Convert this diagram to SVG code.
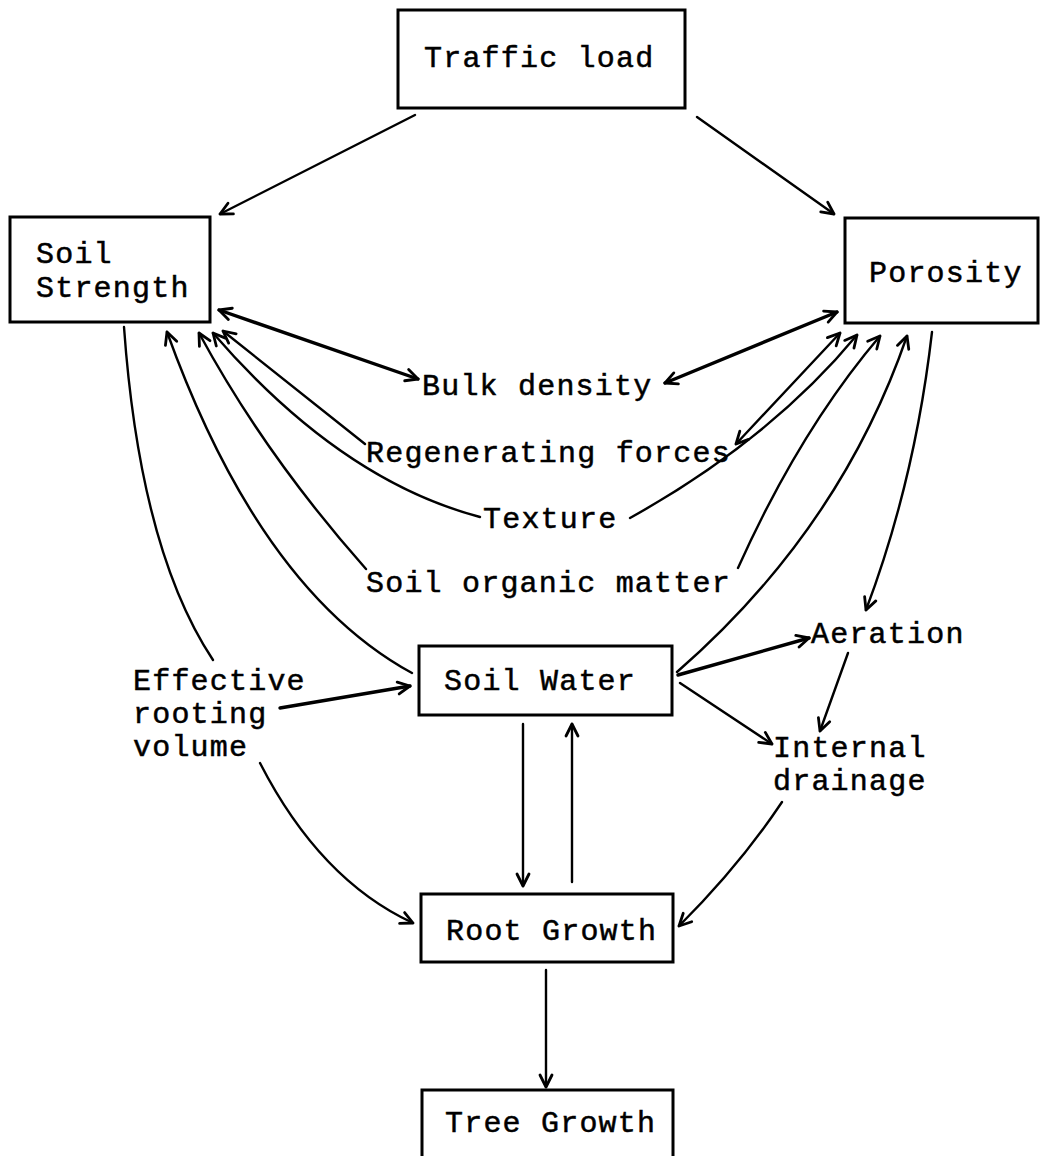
<svg xmlns="http://www.w3.org/2000/svg" width="1041" height="1156" viewBox="0 0 1041 1156">
<style>
.box{fill:#fff;stroke:#000;stroke-width:3}
text{font-family:"Liberation Mono","Courier New",monospace;font-size:30px;letter-spacing:1.2px;fill:#000;stroke:#000;stroke-width:0.5}
.c{fill:none;stroke:#000;stroke-width:2.4;stroke-linecap:round}
.h{stroke-width:3.4}
.a{marker-end:url(#ah)}
.b{marker-start:url(#ah);marker-end:url(#ah)}
</style>
<defs>
<marker id="ah" viewBox="0 0 16 16" refX="14" refY="8" markerWidth="16" markerHeight="16" markerUnits="userSpaceOnUse" orient="auto-start-reverse">
<path d="M2,2 L14,8 L2,14" fill="none" stroke="#000" stroke-width="2.8" stroke-linecap="round" stroke-linejoin="round"/>
</marker>
</defs>
<rect width="1041" height="1156" fill="#fff"/>
<g id="connectors">
<path class="c a" d="M415,115 L220,214"/>
<path class="c a" d="M697,117 L834,214"/>
<path class="c h b" d="M219,310 L418,379"/>
<path class="c h b" d="M665,383 L837,312"/>
<path class="c a" d="M365,444 L223,331"/>
<path class="c b" d="M736,444 L840,333"/>
<path class="c a" d="M480,517 Q340,480 213,333"/>
<path class="c a" d="M630,518 Q770,440 857,335"/>
<path class="c a" d="M366,569 Q265,455 199,333"/>
<path class="c a" d="M738,568 Q800,430 880,336"/>
<path class="c a" d="M412,673 Q260,590 167,332"/>
<path class="c a" d="M677,672 Q840,530 907,336"/>
<path class="c" d="M124,327 Q140,550 213,660"/>
<path class="c a" d="M932,332 Q915,480 866,610"/>
<path class="c h a" d="M280,708 L410,686"/>
<path class="c h a" d="M678,675 L809,638"/>
<path class="c a" d="M680,683 L772,744"/>
<path class="c a" d="M848,653 L820,731"/>
<path class="c a" d="M782,802 Q740,865 679,926"/>
<path class="c a" d="M260,763 Q320,880 413,923"/>
<path class="c a" d="M523,724 L523,886"/>
<path class="c a" d="M572,882 L572,724"/>
<path class="c a" d="M546,970 L546,1087"/>
</g>
<g id="traffic-load"><rect class="box" x="398" y="10" width="287" height="98"/><text x="424" y="67">Traffic load</text></g>
<g id="soil-strength"><rect class="box" x="10" y="217" width="200" height="105"/><text x="36" y="263">Soil</text><text x="36" y="297">Strength</text></g>
<g id="porosity"><rect class="box" x="845" y="218" width="193" height="105"/><text x="869" y="282">Porosity</text></g>
<g id="bulk-density"><text x="422" y="395">Bulk density</text></g>
<g id="regenerating-forces"><text x="366" y="462">Regenerating forces</text></g>
<g id="texture"><text x="483" y="528">Texture</text></g>
<g id="soil-organic-matter"><text x="366" y="592">Soil organic matter</text></g>
<g id="effective-rooting-volume"><text x="133" y="690">Effective</text><text x="133" y="723">rooting</text><text x="133" y="756">volume</text></g>
<g id="soil-water"><rect class="box" x="419" y="646" width="253" height="69"/><text x="444" y="690">Soil Water</text></g>
<g id="aeration"><text x="811" y="643">Aeration</text></g>
<g id="internal-drainage"><text x="773" y="757">Internal</text><text x="773" y="790">drainage</text></g>
<g id="root-growth"><rect class="box" x="421" y="894" width="252" height="68"/><text x="446" y="940">Root Growth</text></g>
<g id="tree-growth"><rect class="box" x="422" y="1090" width="251" height="70"/><text x="445" y="1132">Tree Growth</text></g>
</svg>
